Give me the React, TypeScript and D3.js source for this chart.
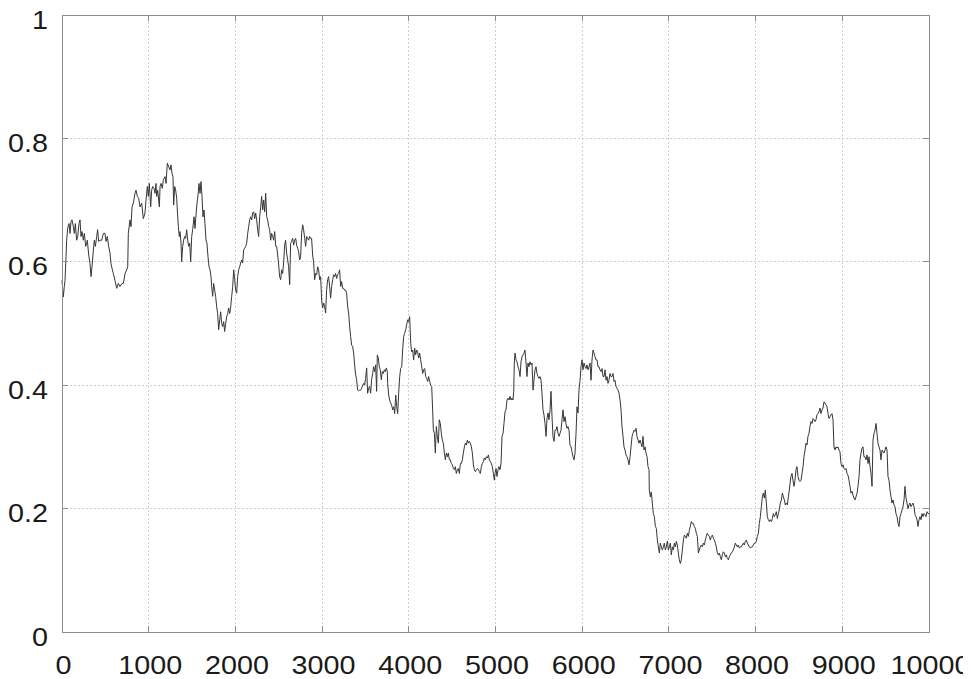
import React from 'react';
import * as d3 from 'd3';

// Random-walk style series, split by region: [step, value]
const segA: [number, number][] = [
  [0,0.570],[15,0.543],[27,0.560],[35,0.570],[46,0.608],[54,0.635],[65,0.654],[81,0.662],[92,0.646],[104,0.665],
  [115,0.668],[131,0.657],[142,0.646],[154,0.662],[169,0.635],[181,0.641],[196,0.662],[208,0.668],[219,0.641],[231,0.649],
  [246,0.635],[258,0.646],[273,0.625],[285,0.630],[292,0.635],[308,0.611],[323,0.597],[335,0.576],[346,0.592],[362,0.619],
  [373,0.635],[385,0.625],[400,0.641],[411,0.652],[423,0.633],[438,0.635],[458,0.635],[477,0.646],[496,0.646],[508,0.633],
  [523,0.641],[538,0.625],[554,0.614],[565,0.597],[581,0.587],[592,0.581],[611,0.570],[631,0.557],[650,0.565],[669,0.560],
  [692,0.565],[708,0.565],[727,0.581],[746,0.587],[758,0.592],[765,0.646],[784,0.668],[796,0.657],[808,0.689],[823,0.695],
  [842,0.711],[854,0.716],[869,0.706],[884,0.703],[900,0.689],[919,0.695],[938,0.670],[957,0.679],[969,0.700],[984,0.722],
  [996,0.706],[1007,0.727],[1023,0.689],[1034,0.716],[1046,0.722],[1061,0.719],[1073,0.711],[1084,0.727],[1092,0.706],[1104,0.716],
  [1115,0.700],[1123,0.689],[1131,0.722],[1142,0.727],[1157,0.719],[1169,0.733],[1188,0.738],[1200,0.727],[1215,0.760],[1230,0.754],
  [1246,0.749],
];

const segB: [number, number][] = [
  [1257,0.757],[1269,0.743],[1280,0.738],[1288,0.692],[1300,0.722],[1311,0.716],[1323,0.703],[1330,0.684],[1342,0.657],[1353,0.641],
  [1361,0.649],[1373,0.630],[1380,0.600],[1392,0.625],[1403,0.635],[1415,0.641],[1426,0.638],[1438,0.652],[1450,0.635],[1461,0.625],
  [1473,0.630],[1484,0.600],[1496,0.641],[1507,0.652],[1523,0.673],[1534,0.654],[1546,0.676],[1557,0.695],[1569,0.708],[1580,0.727],
  [1592,0.711],[1603,0.730],[1615,0.706],[1626,0.673],[1638,0.684],[1649,0.662],[1661,0.635],[1672,0.630],[1684,0.608],[1696,0.592],
  [1707,0.587],[1719,0.576],[1726,0.560],[1738,0.544],[1749,0.565],[1761,0.554],[1772,0.544],[1784,0.527],[1795,0.516],[1807,0.490],
  [1819,0.506],[1830,0.519],[1842,0.500],[1853,0.495],[1865,0.503],[1876,0.487],[1888,0.500],[1899,0.511],[1911,0.516],[1922,0.525],
  [1934,0.516],[1946,0.527],[1957,0.544],[1969,0.560],[1980,0.587],[1992,0.571],[2003,0.554],[2015,0.549],[2026,0.576],[2038,0.587],
  [2049,0.592],[2061,0.598],[2072,0.603],[2084,0.598],[2095,0.619],[2107,0.622],[2119,0.625],[2130,0.630],[2142,0.646],[2153,0.657],
  [2165,0.668],[2176,0.673],[2188,0.668],[2199,0.679],[2211,0.681],[2222,0.670],[2234,0.679],[2245,0.668],[2257,0.652],[2268,0.641],
  [2280,0.673],[2292,0.689],[2303,0.706],[2315,0.684],[2326,0.700],[2338,0.681],[2349,0.711],[2361,0.673],[2372,0.668],[2384,0.657],
  [2395,0.652],[2407,0.635],[2418,0.646],[2430,0.641],[2441,0.635],[2453,0.649],[2465,0.625],[2476,0.625],[2488,0.611],[2499,0.595],
];

const segC: [number, number][] = [
  [2510,0.576],[2522,0.571],[2533,0.587],[2545,0.581],[2556,0.598],[2568,0.627],[2579,0.635],[2591,0.614],[2603,0.603],[2614,0.592],
  [2626,0.563],[2637,0.630],[2649,0.633],[2660,0.638],[2672,0.627],[2683,0.635],[2695,0.638],[2706,0.627],[2718,0.622],[2729,0.617],
  [2741,0.603],[2752,0.608],[2764,0.646],[2776,0.660],[2787,0.652],[2799,0.638],[2810,0.625],[2822,0.641],[2833,0.638],[2845,0.635],
  [2856,0.641],[2868,0.638],[2879,0.638],[2891,0.611],[2902,0.600],[2914,0.571],[2925,0.581],[2937,0.579],[2949,0.592],[2960,0.587],
  [2972,0.571],[2983,0.576],[2995,0.538],[3006,0.525],[3018,0.533],[3029,0.527],[3041,0.517],[3052,0.554],[3064,0.571],[3075,0.576],
  [3087,0.560],[3098,0.541],[3110,0.560],[3122,0.571],[3133,0.579],[3145,0.576],[3156,0.581],[3168,0.573],[3179,0.579],[3191,0.581],
  [3202,0.587],[3214,0.560],[3225,0.568],[3237,0.557],[3248,0.557],[3260,0.554],[3272,0.554],[3283,0.549],[3295,0.527],[3306,0.517],
  [3318,0.495],[3329,0.479],[3341,0.465],[3352,0.463],[3364,0.452],[3375,0.433],[3387,0.417],[3398,0.409],[3410,0.392],[3421,0.391],
  [3433,0.392],[3445,0.392],[3456,0.395],[3468,0.400],[3479,0.403],[3491,0.400],[3502,0.411],[3514,0.428],[3525,0.387],[3537,0.395],
  [3548,0.398],[3560,0.387],[3571,0.409],[3583,0.419],[3594,0.430],[3606,0.422],[3618,0.433],[3629,0.390],[3637,0.449],[3648,0.444],
  [3660,0.430],[3671,0.425],[3683,0.409],[3694,0.422],[3706,0.419],[3718,0.425],[3729,0.422],[3741,0.428],[3752,0.422],
];

const segD: [number, number][] = [
  [3756,0.403],[3768,0.384],[3779,0.376],[3791,0.371],[3802,0.368],[3814,0.360],[3826,0.365],[3837,0.354],[3849,0.384],[3860,0.365],
  [3872,0.354],[3883,0.387],[3895,0.414],[3906,0.427],[3918,0.430],[3929,0.457],[3941,0.479],[3952,0.484],[3964,0.490],[3975,0.498],
  [3987,0.506],[3999,0.503],[4010,0.511],[4022,0.468],[4033,0.454],[4045,0.457],[4056,0.441],[4068,0.460],[4079,0.449],[4091,0.457],
  [4102,0.454],[4114,0.444],[4125,0.452],[4137,0.441],[4149,0.430],[4160,0.419],[4172,0.425],[4183,0.427],[4195,0.414],[4206,0.411],
  [4218,0.406],[4229,0.414],[4241,0.406],[4252,0.400],[4264,0.398],[4275,0.360],[4283,0.328],[4295,0.322],[4306,0.290],[4318,0.333],
  [4329,0.317],[4341,0.306],[4352,0.344],[4364,0.338],[4375,0.322],[4387,0.311],[4398,0.306],[4410,0.290],[4422,0.279],[4433,0.290],
  [4445,0.284],[4456,0.290],[4468,0.279],[4479,0.279],[4491,0.273],[4502,0.271],[4514,0.265],[4525,0.263],[4537,0.268],[4548,0.257],
  [4560,0.263],[4571,0.265],[4583,0.257],[4595,0.273],[4606,0.273],[4618,0.279],[4629,0.290],[4641,0.300],[4652,0.306],[4664,0.303],
  [4675,0.311],[4687,0.306],[4698,0.309],[4710,0.306],[4722,0.300],[4733,0.290],[4745,0.271],[4756,0.263],[4768,0.260],[4779,0.263],
  [4791,0.265],[4802,0.263],[4814,0.260],[4825,0.257],[4837,0.268],[4848,0.273],[4860,0.276],[4871,0.282],[4883,0.279],[4894,0.284],
  [4906,0.282],[4918,0.287],[4929,0.279],[4941,0.276],[4952,0.273],[4964,0.268],[4975,0.257],[4987,0.246],
];

const segE: [number, number][] = [
  [4994,0.257],[5006,0.265],[5017,0.252],[5029,0.263],[5040,0.268],[5052,0.263],[5064,0.274],[5075,0.317],[5087,0.322],[5098,0.338],
  [5110,0.357],[5121,0.360],[5133,0.376],[5144,0.379],[5156,0.376],[5167,0.382],[5179,0.376],[5190,0.379],[5202,0.376],[5210,0.390],
  [5217,0.436],[5225,0.452],[5237,0.441],[5248,0.438],[5260,0.430],[5271,0.425],[5283,0.414],[5294,0.438],[5306,0.446],[5317,0.449],
  [5329,0.452],[5340,0.457],[5352,0.436],[5363,0.414],[5375,0.436],[5386,0.430],[5398,0.438],[5410,0.433],[5421,0.436],[5433,0.392],
  [5444,0.408],[5456,0.425],[5467,0.430],[5479,0.419],[5490,0.414],[5502,0.411],[5513,0.414],[5525,0.408],[5536,0.387],[5548,0.360],
  [5559,0.352],[5571,0.338],[5583,0.317],[5594,0.346],[5606,0.355],[5617,0.344],[5629,0.360],[5640,0.390],[5652,0.349],[5663,0.317],
  [5675,0.309],[5686,0.327],[5698,0.327],[5709,0.333],[5721,0.322],[5733,0.317],[5744,0.322],[5756,0.327],[5767,0.344],[5779,0.360],
  [5790,0.341],[5802,0.349],[5813,0.338],[5825,0.330],[5836,0.333],[5848,0.327],[5859,0.303],[5871,0.300],[5882,0.292],[5894,0.284],
  [5906,0.279],[5917,0.290],[5929,0.322],[5940,0.365],[5952,0.355],[5963,0.392],[5975,0.408],[5986,0.430],[5998,0.441],[6009,0.425],
  [6021,0.436],[6032,0.430],[6044,0.427],[6055,0.433],[6067,0.425],[6079,0.430],[6090,0.436],[6102,0.408],[6113,0.441],[6125,0.457],
  [6136,0.452],[6148,0.446],[6159,0.441],[6171,0.441],[6182,0.430],[6194,0.430],[6205,0.425],[6217,0.422],[6229,0.427],[6240,0.414],
  [6252,0.414],[6263,0.425],[6275,0.408],[6286,0.414],[6298,0.403],[6309,0.408],[6321,0.419],[6332,0.414],[6344,0.414],[6355,0.419],
  [6367,0.406],[6378,0.408],[6390,0.398],[6402,0.395],[6413,0.392],[6425,0.387],[6436,0.376],[6448,0.360],[6459,0.333],[6471,0.317],
  [6482,0.300],[6494,0.295],[6505,0.287],[6517,0.284],[6528,0.279],[6540,0.271],[6552,0.284],[6563,0.300],[6575,0.317],[6586,0.322],
  [6598,0.327],[6609,0.325],[6621,0.330],[6632,0.317],[6644,0.311],[6655,0.306],[6667,0.311],[6678,0.306],[6690,0.300],[6701,0.317],
  [6713,0.295],[6725,0.300],[6736,0.290],[6748,0.284],[6759,0.268],[6771,0.263],
];

const segF: [number, number][] = [
  [6774,0.230],[6786,0.219],[6797,0.227],[6809,0.209],[6820,0.192],[6832,0.187],[6844,0.171],[6855,0.168],[6867,0.149],[6878,0.138],
  [6890,0.128],[6901,0.144],[6913,0.138],[6924,0.133],[6936,0.138],[6947,0.144],[6959,0.133],[6970,0.138],[6982,0.147],[6994,0.133],
  [7005,0.138],[7017,0.144],[7028,0.125],[7040,0.138],[7051,0.133],[7063,0.144],[7074,0.138],[7086,0.147],[7097,0.141],[7109,0.128],
  [7120,0.117],[7132,0.111],[7143,0.117],[7155,0.133],[7167,0.149],[7178,0.157],[7190,0.155],[7201,0.152],[7213,0.160],[7224,0.155],
  [7236,0.165],[7247,0.171],[7259,0.179],[7270,0.176],[7282,0.176],[7293,0.171],[7305,0.168],[7316,0.160],[7328,0.155],[7340,0.128],
  [7351,0.133],[7363,0.138],[7374,0.141],[7386,0.138],[7397,0.144],[7409,0.141],[7420,0.149],[7432,0.155],[7443,0.160],[7455,0.157],
  [7466,0.155],[7478,0.149],[7490,0.155],[7501,0.157],[7513,0.152],[7524,0.149],[7536,0.144],[7547,0.138],[7559,0.128],[7570,0.125],
  [7582,0.128],[7593,0.122],[7605,0.117],[7616,0.125],[7628,0.130],[7639,0.128],[7651,0.122],[7663,0.125],[7674,0.119],[7686,0.117],
  [7697,0.122],[7709,0.125],[7720,0.128],[7732,0.130],[7743,0.133],[7755,0.138],[7766,0.144],[7778,0.141],[7789,0.138],[7801,0.141],
  [7812,0.136],[7824,0.138],[7835,0.138],[7847,0.141],[7859,0.144],[7870,0.141],[7882,0.147],[7893,0.149],[7905,0.144],[7916,0.141],
  [7928,0.138],[7939,0.136],[7951,0.138],[7962,0.138],[7974,0.141],[7985,0.144],[7997,0.144],[8009,0.147],[8020,0.155],[8032,0.160],
  [8043,0.176],[8055,0.187],[8066,0.203],[8078,0.219],[8089,0.225],[8101,0.217],[8112,0.230],[8124,0.209],[8135,0.187],[8147,0.182],
  [8159,0.179],[8170,0.182],[8182,0.179],[8193,0.184],[8205,0.192],[8216,0.187],[8228,0.190],[8239,0.195],[8251,0.184],[8262,0.192],
  [8274,0.198],[8285,0.209],[8297,0.214],[8309,0.225],[8320,0.219],[8332,0.214],[8343,0.206],[8355,0.209],[8366,0.206],[8378,0.219],
  [8389,0.230],
];

const segG: [number, number][] = [
  [8397,0.241],[8408,0.252],[8420,0.257],[8431,0.246],[8443,0.236],[8454,0.246],[8466,0.263],[8477,0.268],[8489,0.252],[8501,0.246],
  [8512,0.244],[8524,0.246],[8535,0.257],[8547,0.268],[8558,0.284],[8570,0.295],[8581,0.306],[8593,0.303],[8604,0.317],[8616,0.322],
  [8627,0.333],[8639,0.341],[8651,0.338],[8662,0.346],[8674,0.344],[8685,0.341],[8697,0.344],[8708,0.352],[8720,0.354],[8731,0.357],
  [8743,0.363],[8754,0.354],[8766,0.360],[8777,0.363],[8789,0.373],[8800,0.371],[8812,0.368],[8824,0.365],[8835,0.354],[8847,0.346],
  [8858,0.349],[8870,0.352],[8881,0.354],[8893,0.344],[8904,0.300],[8916,0.295],[8927,0.300],[8939,0.298],[8950,0.300],[8962,0.295],
  [8973,0.292],[8985,0.273],[8997,0.268],[9008,0.271],[9020,0.265],[9031,0.263],[9043,0.265],[9054,0.257],[9066,0.254],[9077,0.246],
  [9089,0.236],[9100,0.225],[9112,0.228],[9123,0.222],[9135,0.217],[9146,0.214],[9158,0.219],[9170,0.225],[9181,0.236],[9193,0.252],
  [9204,0.279],[9216,0.290],[9227,0.298],[9239,0.300],[9250,0.284],[9262,0.284],[9273,0.279],[9285,0.287],[9297,0.273],[9308,0.284],
  [9320,0.268],[9331,0.257],[9343,0.236],[9354,0.311],[9366,0.322],[9377,0.327],[9389,0.338],[9400,0.322],[9412,0.306],[9423,0.300],
  [9435,0.295],[9446,0.279],[9458,0.295],[9470,0.292],[9481,0.290],[9493,0.295],[9504,0.300],[9516,0.295],[9527,0.252],[9539,0.246],
  [9550,0.230],[9562,0.219],[9573,0.209],[9585,0.214],[9596,0.206],[9608,0.203],[9619,0.192],[9631,0.187],[9643,0.176],[9654,0.171],
  [9666,0.187],[9677,0.192],[9689,0.198],[9700,0.203],[9712,0.214],[9723,0.236],[9735,0.217],[9746,0.209],[9758,0.200],[9769,0.206],
  [9781,0.209],[9792,0.203],[9804,0.206],[9815,0.209],[9827,0.203],[9839,0.190],[9850,0.187],[9862,0.182],[9873,0.171],[9885,0.182],
  [9896,0.187],[9908,0.182],[9919,0.192],[9931,0.187],[9942,0.192],[9954,0.190],[9966,0.187],[9977,0.195],[9989,0.192],[10000,0.192],
];

const xTicks = [0, 1000, 2000, 3000, 4000, 5000, 6000, 7000, 8000, 9000, 10000];
const xTickLabels = ['0', '1000', '2000', '3000', '4000', '5000', '6000', '7000', '8000', '9000', '10000'];
const yTicks = [0, 0.2, 0.4, 0.6, 0.8, 1];
const yTickLabels = ['0', '0.2', '0.4', '0.6', '0.8', '1'];

const W = 963;
const H = 679;
const FONT = "'Liberation Sans', Arial, Helvetica, sans-serif";

export default function App() {
  const series = [...segA, ...segB, ...segC, ...segD, ...segE, ...segF, ...segG];
  const x = d3.scaleLinear().domain([0, 10000]).range([62, 929]);
  const y = d3.scaleLinear().domain([0, 1]).range([632, 15]);
  const line = d3.line<[number, number]>().x((d) => x(d[0])).y((d) => y(d[1]));
  const x0 = x(0), x1 = x(10000), y0 = y(0), y1 = y(1);
  const tickLen = 6;
  const frameColor = '#8c8c8c';

  return (
    <svg width={W} height={H} style={{ position: 'absolute', left: 0, top: 0, display: 'block', background: '#fff' }}>
      <rect x={0} y={0} width={W} height={H} fill="#fff" />
      <g shapeRendering="crispEdges">
        {xTicks.slice(1, -1).map((t) => (
          <line key={'gx' + t} x1={x(t)} x2={x(t)} y1={y0} y2={y1} stroke="#cfcfcf" strokeWidth={1} strokeDasharray="2,2" />
        ))}
        {yTicks.slice(1, -1).map((t) => (
          <line key={'gy' + t} x1={x0} x2={x1} y1={y(t)} y2={y(t)} stroke="#cfcfcf" strokeWidth={1} strokeDasharray="2,2" />
        ))}
      </g>
      <path d={line(series) || ''} fill="none" stroke="#363636" strokeWidth={1} strokeLinejoin="round" />
      <g shapeRendering="crispEdges" stroke={frameColor} strokeWidth={1}>
        <rect x={x0} y={y1} width={x1 - x0} height={y0 - y1} fill="none" />
        {xTicks.map((t) => (
          <g key={'tx' + t}>
            <line x1={x(t)} x2={x(t)} y1={y0} y2={y0 - tickLen} />
            <line x1={x(t)} x2={x(t)} y1={y1} y2={y1 + tickLen} />
          </g>
        ))}
        {yTicks.map((t) => (
          <g key={'ty' + t}>
            <line x1={x0} x2={x0 + tickLen} y1={y(t)} y2={y(t)} />
            <line x1={x1} x2={x1 - tickLen} y1={y(t)} y2={y(t)} />
          </g>
        ))}
      </g>
      <g fontFamily={FONT} fontSize={25} fill="#1a1a1a">
        {xTicks.map((t, i) => (
          <text key={'lx' + t} transform={`translate(${x(t) + 1.5},673.5) scale(1.15,1)`} textAnchor="middle">
            {xTickLabels[i]}
          </text>
        ))}
        {yTicks.map((t, i) => (
          <text key={'ly' + t} transform={`translate(48,${y(t) + 13.5}) scale(1.15,1)`} textAnchor="end">
            {yTickLabels[i]}
          </text>
        ))}
      </g>
    </svg>
  );
}
